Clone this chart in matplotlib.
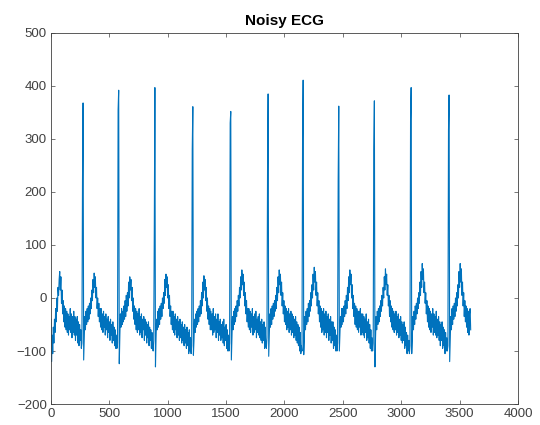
import numpy as np
import matplotlib
matplotlib.use("Agg")
import matplotlib.pyplot as plt

# ---- data (one value every 5 samples) ----
sample_step = 5

seg_start = [-40, -120, -70, -105, -55, -85, -40, -65, -20, -45,
             0, -25, 20, 5, 35, 50, 15, 40, -10, 15,
             -30, -5, -45, -15, -55, -20, -60, -25, -65, -30,
             -70, -35, -60, -20, -65, -30, -75, -35, -65, -25,
             -70, -35, -80, -40, -70, -35, -85, -45, -90, -50,
             -80, -60, -95, -85, 220, 368]

beat_01 = [-117,
           -75, -35, -60, -25, -50, -20, -45, -15, -40, -10, -30, 0, -20, 15, -5,
           35, 10, 47, 20, 40, 0, 20, -20, 0, -35, -10, -45, -20, -55,
           -20, -60, -30, -65, -25, -55, -35, -70, -30, -60, -40, -75, -35, -65,
           -45, -80, -40, -70, -50, -85, -45, -80, -55, -90, -60, -95,
           -70, -95, -85, 355, 392]

beat_02 = [-124,
           -70, -30, -55, -20, -50, -25, -45, -15, -40, -5, -35, 5, -25, 10, -15,
           30, 0, 40, 15, 35, -5, 20, -25, 0, -40, -15, -50, -20, -60,
           -25, -65, -30, -60, -20, -70, -35, -65, -30, -75, -40, -60, -35, -80,
           -40, -70, -45, -85, -50, -75, -45, -90, -55, -80, -60, -95, -65,
           -90, -100, -80, 125, 397]

beat_03 = [-130,
           -75, -40, -60, -25, -55, -20, -50, -15, -40, -10, -35, 0, -20, 10, -10,
           35, 5, 45, 20, 40, 0, 25, -20, 5, -35, -15, -50, -25, -60,
           -25, -65, -35, -70, -30, -60, -40, -75, -35, -70, -45, -80, -40, -75,
           -50, -85, -45, -80, -55, -90, -50, -85, -60, -95, -55, -90, -65, -105,
           -60, -100,
           -75, -105, -90, 280, 361]

beat_04 = [-108,
           -80, -40, -65, -30, -55, -25, -50, -20, -45, -15, -35, -5, -30, 10, -15,
           30, 0, 42, 15, 35, -5, 20, -25, 0, -40, -15, -50, -20, -60,
           -25, -60, -30, -70, -20, -65, -35, -60, -30, -75, -40, -65, -30, -80,
           -45, -70, -40, -80, -50, -75, -45, -85, -40, -90, -55, -80, -50, -95,
           -60, -100,
           -70, -100, -85, 330, 352]

beat_05 = [-117,
           -75, -35, -60, -25, -50, -20, -45, -15, -35, -5, -25, 5, -15, 20, 0,
           40, 15, 53, 25, 45, 5, 30, -15, 10, -30, -5, -45, -20, -55,
           -20, -60, -25, -65, -30, -55, -20, -70, -35, -65, -30, -60, -25, -75,
           -40, -65, -35, -70, -30, -75, -45, -80, -40, -85, -50, -80, -45, -95,
           -55,
           -90, -95, -75, 240, 385]

beat_06 = [-110,
           -70, -30, -55, -20, -50, -15, -40, -10, -35, -5, -25, 5, -20, 20, -5,
           40, 10, 53, 25, 45, 5, 30, -15, 10, -30, -5, -45, -15, -50,
           -20, -60, -25, -55, -20, -65, -30, -60, -25, -70, -30, -65, -35, -75,
           -40, -70, -35, -80, -45, -85, -50, -90, -55, -100, -65,
           -105, -90, -100, 300, 411]

beat_07 = [-107,
           -75, -35, -60, -25, -50, -20, -45, -10, -35, -5, -25, 10, -15, 25, 0,
           45, 15, 58, 30, 50, 5, 30, -15, 10, -30, -5, -45, -15, -55,
           -20, -65, -25, -60, -20, -70, -30, -65, -25, -75, -35, -65, -30, -80,
           -40, -70, -35, -85, -45, -80, -45, -95, -55, -90, -60, -100,
           -70, -100, -85, 223, 362]

beat_08 = [-100,
           -70, -35, -55, -20, -50, -20, -45, -15, -35, -5, -30, 5, -20, 20, -5,
           40, 10, 53, 25, 45, 0, 25, -20, 5, -35, -10, -50, -15, -55,
           -20, -60, -25, -65, -25, -55, -20, -70, -30, -65, -30, -70, -35, -75,
           -40, -65, -30, -80, -45, -75, -40, -85, -50, -95, -60, -100,
           -75, -100, -85, 280, 372]

beat_09 = [-130,
           -75, -35, -60, -25, -50, -20, -45, -15, -35, -5, -25, 5, -15, 20, 0,
           40, 15, 55, 25, 45, 5, 25, -15, 5, -35, -5, -45, -15, -55,
           -20, -60, -25, -65, -30, -60, -25, -70, -35, -65, -30, -75, -40, -70,
           -35, -80, -45, -85, -50, -80, -45, -95, -55, -90, -65, -105, -70, -100,
           -80, -105, -90, 336, 397]

beat_10 = [-105,
           -75, -35, -60, -25, -50, -15, -40, -10, -30, 0, -20, 10, -10, 30, 5,
           50, 20, 65, 35, 55, 10, 30, -10, 10, -30, -5, -45, -15, -55,
           -20, -60, -25, -65, -30, -55, -20, -70, -30, -65, -35, -70, -25, -75,
           -40, -70, -35, -80, -45, -90, -50, -80, -45, -95, -55, -90, -60, -105,
           -65, -100,
           -75, -100, -90, 317, 383]

seg_end = [-120,
           -75, -35, -60, -20, -50, -15, -40, -10, -35, 0, -25, 10, -15, 25, 0,
           50, 20, 65, 30, 55, 5, 30, -15, 10, -35, -5, -45, -15, -55,
           -20, -65, -25, -70, -30, -20, -60]

x_ticks = [0, 500, 1000, 1500, 2000, 2500, 3000, 3500, 4000]
y_ticks = [-200, -100, 0, 100, 200, 300, 400, 500]
title_text = "Noisy ECG"

# ---- assemble ----
ecg = np.array(seg_start + beat_01 + beat_02 + beat_03 + beat_04 + beat_05 +
               beat_06 + beat_07 + beat_08 + beat_09 + beat_10 + seg_end,
               dtype=float)
samples = np.arange(len(ecg)) * sample_step

plt.rcParams['font.family'] = ['Liberation Sans', 'DejaVu Sans']

fig = plt.figure(figsize=(5.4, 4.25), dpi=100)
ax = fig.add_axes([0.0944, 0.0494, 0.8648, 0.873])

ax.plot(samples, ecg, color='#0072BD', linewidth=0.8)

ax.set_xlim(x_ticks[0], x_ticks[-1])
ax.set_ylim(y_ticks[0], y_ticks[-1])
ax.set_xticks(x_ticks)
ax.set_yticks(y_ticks)

axis_col = '#404040'
for sp in ax.spines.values():
    sp.set_color(axis_col)
    sp.set_linewidth(0.6)
ax.tick_params(direction='in', top=True, right=True, length=3, width=0.5,
               colors=axis_col, labelsize=9.5, pad=3)
ax.set_title(title_text, fontsize=11, fontweight='bold', color='black', pad=6)

fig.savefig('out.png', dpi=100, facecolor='white')
